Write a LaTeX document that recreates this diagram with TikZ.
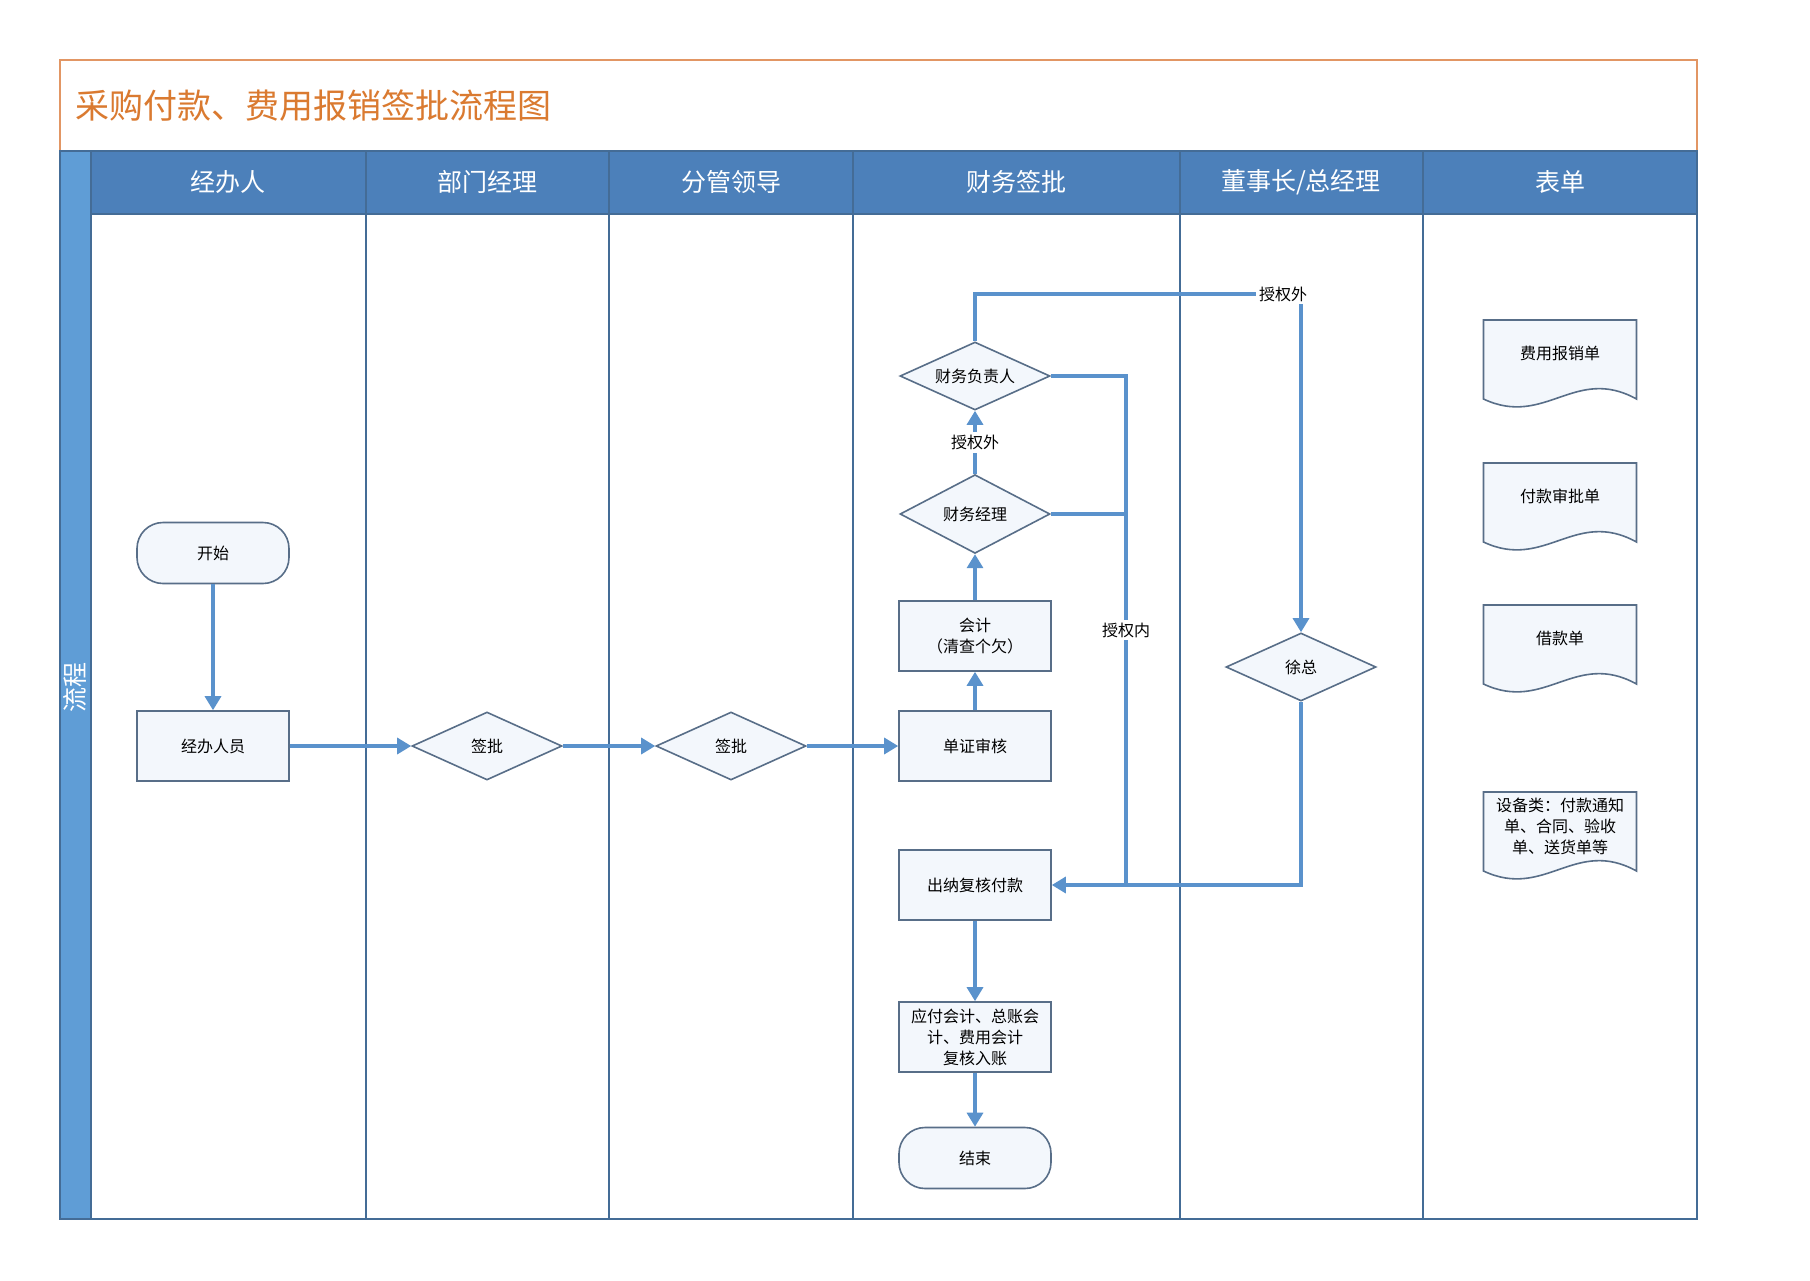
\documentclass[tikz,border=0pt]{standalone}
\usepackage{fontspec}
\setmainfont{Noto Sans CJK SC}
\usetikzlibrary{shapes.geometric,arrows.meta}
\definecolor{frameorange}{RGB}{226,150,100}
\definecolor{titleorange}{RGB}{218,122,48}
\definecolor{headblue}{RGB}{76,128,186}
\definecolor{stripblue}{RGB}{95,157,214}
\definecolor{laneline}{RGB}{68,108,150}
\definecolor{arrowblue}{RGB}{90,146,204}
\definecolor{nodeborder}{RGB}{88,110,136}
\definecolor{nodefill}{RGB}{243,247,252}
\begin{document}
\begin{tikzpicture}[x=0.5pt,y=-0.5pt,
 box/.style={draw=nodeborder,fill=nodefill,line width=0.8pt,minimum width=76pt,minimum height=35pt,inner sep=1pt,font=\fontsize{8}{10.5}\selectfont,align=center},
 term/.style={box,rounded corners=13pt,minimum height=30.5pt},
 dec/.style={diamond,draw=nodeborder,fill=nodefill,line width=0.8pt,minimum width=75pt,minimum height=34pt,inner sep=0pt,font=\fontsize{8}{10}\selectfont},
 flow/.style={draw=arrowblue,line width=1.6pt,-{Triangle[length=7pt,width=8pt]}},
 link/.style={draw=arrowblue,line width=1.6pt},
 lbl/.style={fill=white,inner sep=1.5pt,font=\fontsize{8}{10}\selectfont},
 lane/.style={draw=laneline,line width=0.8pt},
 hdr/.style={text=white,font=\fontsize{12.5}{14}\selectfont},
 doctext/.style={font=\fontsize{8}{10.5}\selectfont,align=center,inner sep=0pt},
 docpic/.pic={\draw[draw=nodeborder,fill=nodefill,line width=0.8pt] (-76.5,0) -- (76.5,0) -- (76.5,79) .. controls (15,45) and (-15,108) .. (-76.5,79) -- cycle;}
]
\useasboundingbox (0,0) rectangle (1810,1280);
\fill[white] (0,0) rectangle (1810,1280);
% title band
\draw[frameorange,line width=0.8pt] (60,60) rectangle (1697,151);
\node[anchor=west,text=titleorange,font=\fontsize{17}{20}\selectfont] (title) at (68,106) {采购付款、费用报销签批流程图};
% header and strip
\fill[headblue] (91,151) rectangle (1697,214);
\fill[stripblue] (60,151) rectangle (91,1219);
\draw[lane] (60,151) rectangle (1697,1219);
\draw[lane] (91,151) -- (91,1219);
\draw[lane] (91,214) -- (1697,214);
\foreach \xx in {366,609,853,1180,1423} {\draw[lane] (\xx,151) -- (\xx,1219);}
\node[hdr] (h1) at (228,182) {经办人};
\node[hdr] (h2) at (487,182) {部门经理};
\node[hdr] (h3) at (731,182) {分管领导};
\node[hdr] (h4) at (1016,182) {财务签批};
\node[hdr] (h5) at (1301,182) {董事长/总经理};
\node[hdr] (h6) at (1560,182) {表单};
\node[rotate=90,text=white,font=\fontsize{12.5}{14}\selectfont] (strip) at (75,687) {流程};
% nodes
\node[term] (start) at (213,553) {开始};
\node[box] (handler) at (213,746) {经办人员};
\node[dec] (sign1) at (487,746) {签批};
\node[dec] (sign2) at (731,746) {签批};
\node[box] (check) at (975,746) {单证审核};
\node[box] (acct) at (975,636) {会计\\（清查个欠）};
\node[dec] (fmgr) at (975,514) {财务经理};
\node[dec] (fhead) at (975,376) {};
\node[font=\fontsize{8}{10}\selectfont,inner sep=0pt] (fheadtxt) at (fhead.center) {财务负责人};
\node[dec] (xu) at (1301,667) {徐总};
\node[box] (cashier) at (975,885) {出纳复核付款};
\node[box] (post) at (975,1037) {应付会计、总账会\\计、费用会计\\复核入账};
\node[term] (end) at (975,1158) {结束};
% connectors
\draw[flow] (start) -- (handler);
\draw[flow] (handler) -- (sign1);
\draw[flow] (sign1) -- (sign2);
\draw[flow] (sign2) -- (check);
\draw[flow] (check) -- (acct);
\draw[flow] (acct) -- (fmgr);
\draw[flow] (fmgr) -- node[lbl] (outa) {授权外} (fhead);
\coordinate (topc) at (1301,294);
\draw[flow] (fhead.north) |- (topc) -- (xu.north);
\node[lbl] (outb) at (1283,294) {授权外};
\coordinate (inbus) at (1126,885);
\draw[link] (fhead.east) -| (inbus);
\draw[link] (fmgr.east) -- (fmgr.east -| inbus);
\node[lbl] (inlbl) at (1126,630) {授权内};
\draw[flow] (xu.south) |- (cashier.east);
\draw[flow] (cashier) -- (post);
\draw[flow] (post) -- (end);
% documents
\pic at (1560,320) {docpic};
\node[doctext] (d1) at (1560,353) {费用报销单};
\pic at (1560,463) {docpic};
\node[doctext] (d2) at (1560,496) {付款审批单};
\pic at (1560,605) {docpic};
\node[doctext] (d3) at (1560,638) {借款单};
\pic at (1560,792) {docpic};
\node[doctext] (d4) at (1560,826) {设备类：付款通知\\单、合同、验收\\单、送货单等};
\end{tikzpicture}
\end{document}
